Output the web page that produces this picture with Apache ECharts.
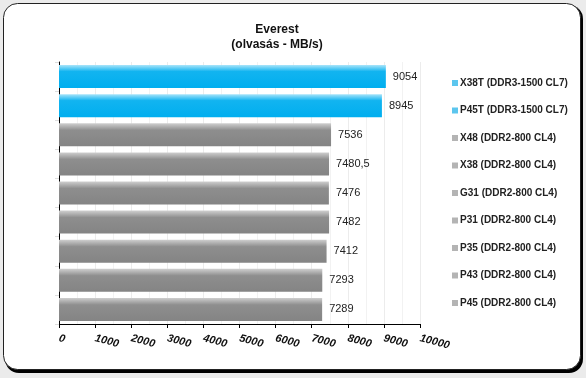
<!DOCTYPE html>
<html>
<head>
<meta charset="utf-8">
<script src="https://cdn.jsdelivr.net/npm/echarts@6/dist/echarts.min.js"></script>
<style>
  html, body { margin: 0; padding: 0; background: #ebebeb; }
  #main { width: 586px; height: 378px; }
</style>
</head>
<body>
<div id="main"></div>
<script>
var boards = ['X38T (DDR3-1500 CL7)', 'P45T (DDR3-1500 CL7)', 'X48 (DDR2-800 CL4)', 'X38 (DDR2-800 CL4)',
  'G31 (DDR2-800 CL4)', 'P31 (DDR2-800 CL4)', 'P35 (DDR2-800 CL4)', 'P43 (DDR2-800 CL4)', 'P45 (DDR2-800 CL4)'];
var readSpeed = [9054, 8945, 7536, 7480.5, 7476, 7482, 7412, 7293, 7289];
var isDdr3 = [true, true, false, false, false, false, false, false, false];

var chart = echarts.init(document.getElementById('main'));

function grad(blue) {
  if (blue) {
    return new echarts.graphic.LinearGradient(0, 0, 0, 1, [
      {offset: 0, color: '#a8e4fa'},
      {offset: 0.28, color: '#12b4f0'},
      {offset: 1, color: '#00aeef'}
    ]);
  }
  return new echarts.graphic.LinearGradient(0, 0, 0, 1, [
    {offset: 0, color: '#cfcfcf'},
    {offset: 0.3, color: '#8e8e8e'},
    {offset: 1, color: '#848484'}
  ]);
}

var series = boards.map(function (name, i) {
  return {
    name: name,
    type: 'bar',
    stack: 'all',
    barWidth: 23,
    data: readSpeed.map(function (v, j) { return j === i ? v : '-'; }),
    itemStyle: { color: grad(isDdr3[i]) },
    label: {
      show: true,
      position: 'right',
      distance: 7,
      color: '#222',
      fontFamily: 'Liberation Sans, Arial',
      fontSize: 11,
      formatter: function (p) { return String(p.value).replace('.', ','); }
    }
  };
});

var option = {
  animation: false,
  backgroundColor: 'transparent',
  graphic: [
    { type: 'rect', z: -10, shape: { x: 5, y: 5, width: 578, height: 368, r: 14 },
      style: { fill: '#000' } },
    { type: 'rect', z: -9, shape: { x: 3.5, y: 3.5, width: 577, height: 366, r: 14 },
      style: { fill: '#fff', stroke: '#222', lineWidth: 1 } }
  ],
  title: {
    text: 'Everest\n(olvasás - MB/s)',
    left: 272,
    top: 17,
    textAlign: 'center',
    textStyle: { fontFamily: 'Liberation Sans, Arial', fontSize: 12, fontWeight: 'bold', color: '#111', lineHeight: 15 }
  },
  legend: {
    orient: 'vertical',
    left: 447,
    top: 73,
    itemWidth: 6,
    itemHeight: 6,
    itemGap: 17.5,
    icon: 'rect',
    textStyle: { fontFamily: 'Liberation Sans, Arial', fontSize: 10, fontWeight: 'bold', color: '#222', padding: [0, 0, 0, -3] },
    data: boards.map(function (n, i) {
      return { name: n, itemStyle: { color: isDdr3[i] ? '#5cc6ee' : '#b4b4b4' } };
    })
  },
  grid: { left: 59, top: 62, width: 361, height: 262 },
  xAxis: {
    type: 'value',
    min: 0,
    max: 10000,
    interval: 1000,
    axisLine: { show: true, lineStyle: { color: '#000', width: 1 } },
    axisTick: { show: true, length: 4, lineStyle: { color: '#000' } },
    axisLabel: {
      rotate: -15,
      margin: 14,
      fontFamily: 'Liberation Sans, Arial',
      fontSize: 11,
      fontStyle: 'italic',
      fontWeight: 'bold',
      color: '#111',
      formatter: function (v) { return String(v); }
    },
    splitLine: { show: true, lineStyle: { color: '#ececec', width: 1 } },
    minorTick: { show: false, splitNumber: 2 },
    minorSplitLine: { show: true, lineStyle: { color: '#f2f2f2', width: 1 } }
  },
  yAxis: {
    type: 'category',
    inverse: true,
    data: boards,
    axisLine: { show: true, lineStyle: { color: '#000', width: 1 } },
    axisTick: { show: true, length: 4, lineStyle: { color: '#dddddd' } },
    axisLabel: { show: false }
  },
  series: series
};

chart.setOption(option);
window.addEventListener('resize', function () { chart.resize(); });
</script>
</body>
</html>
